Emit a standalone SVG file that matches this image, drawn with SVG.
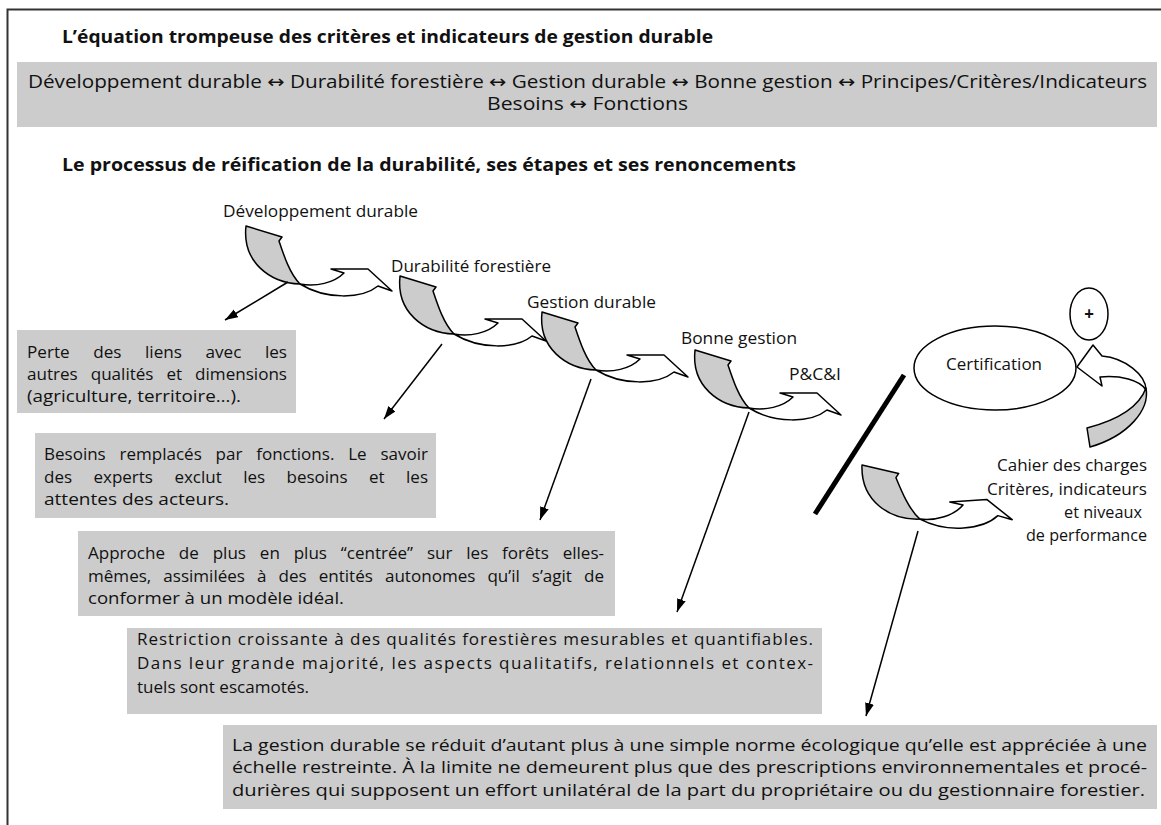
<svg xmlns="http://www.w3.org/2000/svg" xmlns:xlink="http://www.w3.org/1999/xlink" width="1161" height="825" viewBox="0 0 1161 825">
<style>
.t{font-family:"Open Sans","Liberation Sans",sans-serif;font-size:17px;fill:#111}
.b{font-weight:bold}
.band{font-size:18px}
.ar{font-family:"DejaVu Sans",sans-serif;font-size:18px}
.box{fill:#cccccc}
.cg{fill:#cccccc;stroke:#000;stroke-width:1.5;stroke-linejoin:round}
.cw{fill:#ffffff;stroke:#000;stroke-width:1.5;stroke-linejoin:round}
.conn{stroke:#000;stroke-width:1.5;fill:none;marker-end:url(#ah)}
.frame{stroke:#333;stroke-width:2;fill:none}
</style>
<defs>
<marker id="ah" markerUnits="userSpaceOnUse" markerWidth="14" markerHeight="10" refX="13" refY="4.5" orient="auto">
<path d="M0,0 L13,4.5 L0,9 Z" fill="#000"/>
</marker>
<g id="curl">
<path class="cg" d="M246,226 L282,237 L279,241 C284,256 290,274 300,284 C270,283 242,262 246,226 Z"/>
<path class="cw" d="M300,284 C316,287 334,283 344,273 L331,269 L368,269 L392,291 L378,286 C362,299 326,300 300,284 Z"/>
</g>
</defs>

<path class="frame" d="M7.5,825 L7.5,9.5 L1161,9.5"/>

<g id="title1">
<text class="t b" x="62" y="43" textLength="651" lengthAdjust="spacingAndGlyphs">L’équation trompeuse des critères et indicateurs de gestion durable</text>
</g>

<g id="equation">
<rect class="box" x="17" y="62" width="1140" height="65"/>
<text class="t band" x="28" y="88" textLength="1119" lengthAdjust="spacingAndGlyphs">Développement durable <tspan class="ar">↔</tspan> Durabilité forestière <tspan class="ar">↔</tspan> Gestion durable <tspan class="ar">↔</tspan> Bonne gestion <tspan class="ar">↔</tspan> Principes/Critères/Indicateurs</text>
<text class="t band" x="487" y="110" textLength="201" lengthAdjust="spacingAndGlyphs">Besoins <tspan class="ar">↔</tspan> Fonctions</text>
</g>

<g id="title2">
<text class="t b" x="62" y="171" textLength="734" lengthAdjust="spacingAndGlyphs">Le processus de réification de la durabilité, ses étapes et ses renoncements</text>
</g>

<g id="step-dd">
<text class="t" x="223" y="217" textLength="195" lengthAdjust="spacingAndGlyphs">Développement durable</text>
<use xlink:href="#curl" href="#curl"/>
</g>
<g id="step-df">
<text class="t" x="391" y="272" textLength="160" lengthAdjust="spacingAndGlyphs">Durabilité forestière</text>
<use xlink:href="#curl" href="#curl" transform="translate(154,50)"/>
</g>
<g id="step-gd">
<text class="t" x="527" y="308" textLength="129" lengthAdjust="spacingAndGlyphs">Gestion durable</text>
<use xlink:href="#curl" href="#curl" transform="translate(296,86)"/>
</g>
<g id="step-bg">
<text class="t" x="681" y="344" textLength="116" lengthAdjust="spacingAndGlyphs">Bonne gestion</text>
<use xlink:href="#curl" href="#curl" transform="translate(449,124)"/>
</g>
<g id="step-pci">
<text class="t" x="789" y="380" textLength="52" lengthAdjust="spacingAndGlyphs">P&amp;C&amp;I</text>
</g>

<g id="separator">
<line x1="904" y1="375" x2="815" y2="514" stroke="#000" stroke-width="5"/>
</g>

<g id="certification">
<ellipse cx="995" cy="368" rx="81" ry="42" fill="#fff" stroke="#000" stroke-width="1.5"/>
<text class="t" x="946" y="370" textLength="96" lengthAdjust="spacingAndGlyphs">Certification</text>
</g>

<g id="plus">
<ellipse cx="1089" cy="314" rx="19" ry="26" fill="#fff" stroke="#000" stroke-width="1.5"/>
<text class="t b" x="1089" y="320" text-anchor="middle">+</text>
</g>

<g id="loop">
<path class="cg" d="M1146,388 C1150,410 1128,436 1090,447 L1087,428 C1110,422 1138,410 1146,388 Z"/>
<path class="cw" d="M1146,390 C1146,375 1125,358 1102,356 L1093,345 L1077,367 L1102,386 L1100,377 C1120,375 1140,380 1146,390 Z"/>
</g>

<g id="cahier">
<use xlink:href="#curl" href="#curl" transform="translate(862,465) rotate(-4) translate(-246,-226)"/>
<text class="t" x="997" y="471" textLength="150" lengthAdjust="spacingAndGlyphs">Cahier des charges</text>
<text class="t" x="987" y="495" textLength="160" lengthAdjust="spacingAndGlyphs">Critères, indicateurs</text>
<text class="t" x="1064" y="518" textLength="78" lengthAdjust="spacingAndGlyphs">et niveaux</text>
<text class="t" x="1026" y="541" textLength="121" lengthAdjust="spacingAndGlyphs">de performance</text>
</g>

<g id="box1">
<rect class="box" x="17" y="330" width="279" height="83"/>
<text class="t" x="27" y="358" word-spacing="19" textLength="260" lengthAdjust="spacingAndGlyphs">Perte des liens avec les</text>
<text class="t" x="27" y="380" word-spacing="8.5" textLength="260" lengthAdjust="spacingAndGlyphs">autres qualités et dimensions</text>
<text class="t" x="27" y="402" textLength="214" lengthAdjust="spacingAndGlyphs">(agriculture, territoire…).</text>
</g>

<g id="box2">
<rect class="box" x="35" y="433" width="401" height="85"/>
<text class="t" x="44" y="460" word-spacing="9.4" textLength="384" lengthAdjust="spacingAndGlyphs">Besoins remplacés par fonctions. Le savoir</text>
<text class="t" x="44" y="483" word-spacing="17" textLength="384" lengthAdjust="spacingAndGlyphs">des experts exclut les besoins et les</text>
<text class="t" x="44" y="505" textLength="185" lengthAdjust="spacingAndGlyphs">attentes des acteurs.</text>
</g>

<g id="box3">
<rect class="box" x="78" y="531" width="537" height="85"/>
<text class="t" x="88" y="559" word-spacing="9.4" textLength="516" lengthAdjust="spacingAndGlyphs">Approche de plus en plus “centrée” sur les forêts elles-</text>
<text class="t" x="88" y="582" word-spacing="7.6" textLength="516" lengthAdjust="spacingAndGlyphs">mêmes, assimilées à des entités autonomes qu’il s’agit de</text>
<text class="t" x="88" y="604" textLength="256" lengthAdjust="spacingAndGlyphs">conformer à un modèle idéal.</text>
</g>

<g id="box4">
<rect class="box" x="127" y="628" width="695" height="86"/>
<text class="t" x="137" y="645" textLength="676" lengthAdjust="spacing">Restriction croissante à des qualités forestières mesurables et quantifiables.</text>
<text class="t" x="137" y="669" textLength="676" lengthAdjust="spacing">Dans leur grande majorité, les aspects qualitatifs, relationnels et contex-</text>
<text class="t" x="137" y="693" textLength="172" lengthAdjust="spacingAndGlyphs">tuels sont escamotés.</text>
</g>

<g id="box5">
<rect class="box" x="223" y="725" width="934" height="84"/>
<text class="t" x="232" y="751" textLength="915" lengthAdjust="spacingAndGlyphs">La gestion durable se réduit d’autant plus à une simple norme écologique qu’elle est appréciée à une</text>
<text class="t" x="232" y="773" textLength="915" lengthAdjust="spacingAndGlyphs">échelle restreinte. À la limite ne demeurent plus que des prescriptions environnementales et procé-</text>
<text class="t" x="232" y="796" textLength="913" lengthAdjust="spacingAndGlyphs">durières qui supposent un effort unilatéral de la part du propriétaire ou du gestionnaire forestier.</text>
</g>

<g id="connectors">
<line class="conn" x1="288" y1="282" x2="225" y2="320"/>
<line class="conn" x1="442" y1="344" x2="384" y2="419"/>
<line class="conn" x1="591" y1="379" x2="540" y2="520"/>
<line class="conn" x1="749" y1="412" x2="677" y2="612"/>
<line class="conn" x1="918" y1="531" x2="866" y2="716"/>
</g>
</svg>
